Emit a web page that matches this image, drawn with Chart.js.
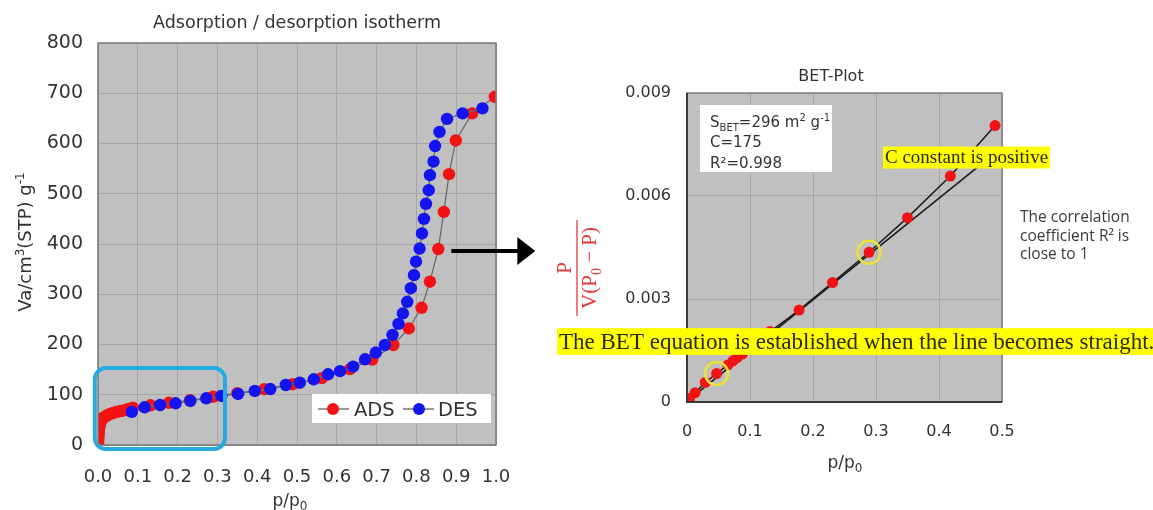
<!DOCTYPE html>
<html><head><meta charset="utf-8">
<script src="https://cdn.jsdelivr.net/npm/chart.js@4.4.1/dist/chart.umd.min.js"></script>
<style>
html,body{margin:0;padding:0;background:#fff;width:1153px;height:510px;overflow:hidden}
#c1{position:absolute;left:0;top:0;width:545px;height:510px}
#c2{position:absolute;left:545px;top:0;width:608px;height:510px}
</style></head><body>
<canvas id="c1" width="545" height="510"></canvas>
<canvas id="c2" width="608" height="510"></canvas>
<script>
// ---------- Isotherm data ----------
const seriesNames = ['ADS', 'DES'];
const adsX = [0.0003,0.0006,0.001,0.0015,0.002,0.003,0.004,0.006,0.008,0.010,0.013,0.017,0.021,0.025,0.029,0.035,0.041,0.047,0.053,0.059,0.065,0.073,0.080,0.088,0.132,0.178,0.231,0.289,0.350,0.418,0.489,0.562,0.633,0.689,0.742,0.781,0.813,0.834,0.855,0.869,0.882,0.899,0.940,0.997];
const adsY = [4,10,16,22,28,34,39,44,48,51,54,56,58,60,61.5,63,64.5,66,67,68,69,70.5,72,74,79,84,89,96,103,111,121,133,151,170,199,232,273,325,390,464,539,606,660,693];
const desX = [0.085,0.117,0.156,0.195,0.232,0.272,0.310,0.352,0.394,0.433,0.472,0.507,0.542,0.578,0.608,0.641,0.671,0.698,0.721,0.740,0.755,0.766,0.777,0.786,0.794,0.799,0.808,0.814,0.819,0.824,0.831,0.834,0.843,0.847,0.858,0.877,0.916,0.966];
const desY = [66,75,79.6,83,87.6,93,97.6,101.6,107.5,111.4,119.4,124,130.7,140.7,147,156,170.5,184,199,219,241,262,285,312,338,365,391,421,450,480,507,537,564,595,623,649,660,670];
const isoXTicks = [0,0.1,0.2,0.3,0.4,0.5,0.6,0.7,0.8,0.9,1.0];
const isoXTickLabels = ['0.0','0.1','0.2','0.3','0.4','0.5','0.6','0.7','0.8','0.9','1.0'];
const isoYTicks = [0,100,200,300,400,500,600,700,800];
const isoYTickLabels = ['0','100','200','300','400','500','600','700','800'];

// ---------- BET data ----------
const betX = [0.001,0.004,0.013,0.029,0.047,0.065,0.073,0.080,0.088,0.132,0.178,0.231,0.289,0.350,0.418,0.489];
const betY = [0.00003,0.0001,0.00027,0.00057,0.00083,0.00108,0.0012,0.0013,0.0014,0.00205,0.00268,0.00348,0.00436,0.00537,0.00658,0.00805];
const fitX = [0, 0.48];
const fitY = [0.00002, 0.00712];
const betXTicks = [0,0.1,0.2,0.3,0.4,0.5];
const betXTickLabels = ['0','0.1','0.2','0.3','0.4','0.5'];
const betYTicks = [0,0.003,0.006,0.009];
const betYTickLabels = ['0','0.003','0.006','0.009'];
const circledPoints = [4, 12];

// annotation in data units
const highlightBox = {xMin:-0.008, xMax:0.319, yMin:-8, yMax:153};
const arrowFrom = {x:0.855, y:390};

const FAM = '"DejaVu Sans", sans-serif';
const SERIF = '"Liberation Serif", "Times New Roman", serif';
const RED = '#f21414', BLUE = '#1414f0';

function rich(ctx, parts, x, y, align){
  let w = 0;
  parts.forEach(p => { ctx.font = p[1] + 'px ' + (p[3] || FAM); p.w = ctx.measureText(p[0]).width; w += p.w; });
  let cx = align === 'center' ? x - w/2 : (align === 'right' ? x - w : x);
  ctx.textAlign = 'left'; ctx.textBaseline = 'alphabetic';
  parts.forEach(p => { ctx.font = p[1] + 'px ' + (p[3] || FAM); ctx.fillText(p[0], cx, y + (p[2] || 0)); cx += p.w; });
  return w;
}
function roundRect(ctx, x, y, w, h, r){
  ctx.beginPath();
  ctx.moveTo(x+r, y); ctx.lineTo(x+w-r, y); ctx.arcTo(x+w, y, x+w, y+r, r);
  ctx.lineTo(x+w, y+h-r); ctx.arcTo(x+w, y+h, x+w-r, y+h, r);
  ctx.lineTo(x+r, y+h); ctx.arcTo(x, y+h, x, y+h-r, r);
  ctx.lineTo(x, y+r); ctx.arcTo(x, y, x+r, y, r); ctx.closePath();
}

const bgPlugin = {
  id:'bg',
  beforeDraw(chart){
    const {ctx, chartArea:a} = chart;
    ctx.save(); ctx.fillStyle = '#c0c0c0';
    ctx.fillRect(a.left, a.top, a.right-a.left, a.bottom-a.top); ctx.restore();
  }
};

const isoPlugin = {
  id:'iso',
  afterDraw(chart){
    const {ctx, chartArea:a, scales:{x, y}} = chart;
    ctx.save();
    // border
    ctx.strokeStyle = '#7a7a7a'; ctx.lineWidth = 1.5;
    ctx.strokeRect(a.left, a.top, a.right-a.left, a.bottom-a.top);
    // title
    ctx.fillStyle = '#333';
    rich(ctx, [['Adsorption / desorption isotherm', 17.5]], 297, 28, 'center');
    // x title
    rich(ctx, [['p/p', 17], ['0', 12, 4]], 290, 506, 'center');
    // y title
    ctx.save(); ctx.translate(31, 242); ctx.rotate(-Math.PI/2);
    rich(ctx, [['Va/cm', 18], ['3', 12, -7], ['(STP) g', 18], ['-1', 12, -7]], 0, 0, 'center');
    ctx.restore();
    // highlight box
    const bx0 = x.getPixelForValue(highlightBox.xMin), bx1 = x.getPixelForValue(highlightBox.xMax);
    const by0 = y.getPixelForValue(highlightBox.yMax), by1 = y.getPixelForValue(highlightBox.yMin);
    ctx.strokeStyle = '#27aae1'; ctx.lineWidth = 4;
    roundRect(ctx, bx0, by0, bx1-bx0, by1-by0, 11); ctx.stroke();
    // legend
    ctx.fillStyle = '#fff'; ctx.fillRect(312, 394, 179, 29);
    const items = [{name:seriesNames[0], c:RED, lx:318, dx:333, tx:354}, {name:seriesNames[1], c:BLUE, lx:403, dx:419, tx:438}];
    items.forEach(it => {
      ctx.strokeStyle = '#777'; ctx.lineWidth = 1.5;
      ctx.beginPath(); ctx.moveTo(it.lx, 409); ctx.lineTo(it.lx+31, 409); ctx.stroke();
      ctx.fillStyle = it.c; ctx.beginPath(); ctx.arc(it.dx, 409, 6, 0, Math.PI*2); ctx.fill();
      ctx.fillStyle = '#333'; rich(ctx, [[it.name, 19.5]], it.tx, 416, 'left');
    });
    // arrow
    const ax = x.getPixelForValue(arrowFrom.x) + 13, ay = y.getPixelForValue(arrowFrom.y) + 2;
    ctx.strokeStyle = '#000'; ctx.fillStyle = '#000'; ctx.lineWidth = 4;
    ctx.beginPath(); ctx.moveTo(ax, ay); ctx.lineTo(ax + 68, ay); ctx.stroke();
    ctx.beginPath(); ctx.moveTo(ax + 66, ay - 14); ctx.lineTo(ax + 84, ay); ctx.lineTo(ax + 66, ay + 14); ctx.closePath(); ctx.fill();
    ctx.restore();
  }
};

function pts(xs, ys){ return xs.map((v, i) => ({x:v, y:ys[i]})); }

new Chart(document.getElementById('c1'), {
  type:'scatter',
  data:{datasets:[
    {label:seriesNames[1], data:pts(desX, desY), order:0, showLine:true, borderColor:'#6a6a6a', borderWidth:1.3,
     backgroundColor:BLUE, pointBackgroundColor:BLUE, pointBorderColor:BLUE, pointBorderWidth:0, pointRadius:6.2},
    {label:seriesNames[0], data:pts(adsX, adsY), order:1, showLine:true, borderColor:'#6a6a6a', borderWidth:1.3,
     backgroundColor:RED, pointBackgroundColor:RED, pointBorderColor:RED, pointBorderWidth:0, pointRadius:6.2}
  ]},
  options:{
    responsive:false, animation:false, devicePixelRatio:1,
    layout:{padding:{top:43, right:49, left:0, bottom:0}},
    plugins:{legend:{display:false}, tooltip:{enabled:false}, title:{display:false}},
    scales:{
      x:{type:'linear', min:0, max:1,
         afterFit(s){ s.height = 65; },
         afterBuildTicks(s){ s.ticks = isoXTicks.map(v => ({value:v})); },
         ticks:{callback:(v, i) => isoXTickLabels[i], font:{family:FAM, size:18}, color:'#333', padding:22, maxRotation:0, autoSkip:false},
         grid:{color:'#a6a6a6', drawTicks:false, lineWidth:1}, border:{display:false}},
      y:{type:'linear', min:0, max:800,
         afterFit(s){ s.width = 98; },
         afterBuildTicks(s){ s.ticks = isoYTicks.map(v => ({value:v})); },
         ticks:{callback:(v, i) => isoYTickLabels[i], font:{family:FAM, size:19}, color:'#333', padding:15, autoSkip:false},
         grid:{color:'#a6a6a6', drawTicks:false, lineWidth:1}, border:{display:false}}
    }
  },
  plugins:[bgPlugin, isoPlugin]
});

const betPlugin = {
  id:'bet',
  afterDatasetsDraw(chart){
    const {ctx} = chart;
    const meta = chart.getDatasetMeta(0);
    ctx.save(); ctx.strokeStyle = '#ece23a'; ctx.lineWidth = 2.5;
    circledPoints.forEach(i => { const p = meta.data[i]; ctx.beginPath(); ctx.arc(p.x, p.y, 11.5, 0, Math.PI*2); ctx.stroke(); });
    ctx.restore();
  },
  afterDraw(chart){
    const {ctx, chartArea:a} = chart;
    ctx.save();
    // border
    ctx.strokeStyle = '#808080'; ctx.lineWidth = 1.5;
    ctx.strokeRect(a.left, a.top, a.right-a.left, a.bottom-a.top);
    ctx.strokeStyle = '#3a3a3a'; ctx.lineWidth = 2;
    ctx.beginPath(); ctx.moveTo(a.left, a.top); ctx.lineTo(a.left, a.bottom); ctx.lineTo(a.right, a.bottom); ctx.stroke();
    // title
    ctx.fillStyle = '#333';
    rich(ctx, [['BET-Plot', 16]], 286, 81, 'center');
    rich(ctx, [['p/p', 17], ['0', 12, 4]], 300, 468, 'center');
    // info box
    ctx.fillStyle = '#fff'; ctx.fillRect(155, 105, 132, 67);
    ctx.fillStyle = '#333';
    rich(ctx, [['S', 15], ['BET', 10, 4], ['=296 m', 15], ['2', 10, -6], [' g', 15], ['-1', 10, -6]], 165, 127, 'left');
    rich(ctx, [['C=175', 15]], 165, 147, 'left');
    rich(ctx, [['R\u00b2=0.998', 15]], 165, 168, 'left');
    // fraction axis title
    ctx.save(); ctx.translate(32, 268); ctx.rotate(-Math.PI/2);
    ctx.fillStyle = '#e03a3a'; ctx.strokeStyle = '#e03a3a'; ctx.lineWidth = 1.3;
    rich(ctx, [['P', 21, 0, SERIF]], 0, -6, 'center');
    ctx.beginPath(); ctx.moveTo(-48, 0); ctx.lineTo(48, 0); ctx.stroke();
    rich(ctx, [['V(P', 21, 0, SERIF], ['0', 14, 5, SERIF], [' \u2212 P)', 21, 0, SERIF]], 0, 19, 'center');
    ctx.restore();
    // yellow labels
    function ylabel(text, x, cy, size){
      ctx.font = size + 'px ' + SERIF;
      const w = ctx.measureText(text).width;
      ctx.fillStyle = '#ffff00'; ctx.fillRect(x - 2, cy - size*0.58, w + 4, size*1.16);
      ctx.fillStyle = '#2a2a10'; ctx.textAlign = 'left'; ctx.textBaseline = 'middle';
      ctx.fillText(text, x, cy + 1);
    }
    ylabel('C constant is positive', 340, 157.5, 19);
    ylabel('The BET equation is established when the line becomes straight.', 14, 341.5, 23);
    // correlation note
    ctx.fillStyle = '#3a3a3a';
    const nf = '"Open Sans", sans-serif';
    rich(ctx, [['The correlation', 15.5, 0, nf]], 475, 222, 'left');
    rich(ctx, [['coefficient R\u00b2 is', 15.5, 0, nf]], 475, 240.5, 'left');
    rich(ctx, [['close to 1', 15.5, 0, nf]], 475, 259, 'left');
    ctx.restore();
  }
};

new Chart(document.getElementById('c2'), {
  type:'scatter',
  data:{datasets:[
    {label:'BET', data:pts(betX, betY), order:0, showLine:true, borderColor:'#1a1a1a', borderWidth:1.5,
     backgroundColor:RED, pointBackgroundColor:RED, pointBorderColor:RED, pointBorderWidth:0, pointRadius:5.5},
    {label:'fit', data:pts(fitX, fitY), order:1, showLine:true, borderColor:'#1a1a1a', borderWidth:1.5, pointRadius:0}
  ]},
  options:{
    responsive:false, animation:false, devicePixelRatio:1,
    layout:{padding:{top:93, right:151, left:0, bottom:0}},
    plugins:{legend:{display:false}, tooltip:{enabled:false}, title:{display:false}},
    scales:{
      x:{type:'linear', min:0, max:0.5,
         afterFit(s){ s.height = 108; },
         afterBuildTicks(s){ s.ticks = betXTicks.map(v => ({value:v})); },
         ticks:{callback:(v, i) => betXTickLabels[i], font:{family:FAM, size:16}, color:'#333', padding:20, maxRotation:0, autoSkip:false},
         grid:{color:'#a6a6a6', drawTicks:false, lineWidth:1}, border:{display:false}},
      y:{type:'linear', min:0, max:0.009,
         afterFit(s){ s.width = 142; },
         afterBuildTicks(s){ s.ticks = betYTicks.map(v => ({value:v})); },
         ticks:{callback:(v, i) => betYTickLabels[i], font:{family:FAM, size:16}, color:'#333', padding:16, autoSkip:false},
         grid:{color:'#a6a6a6', drawTicks:false, lineWidth:1}, border:{display:false}}
    }
  },
  plugins:[bgPlugin, betPlugin]
});
</script></body></html>
